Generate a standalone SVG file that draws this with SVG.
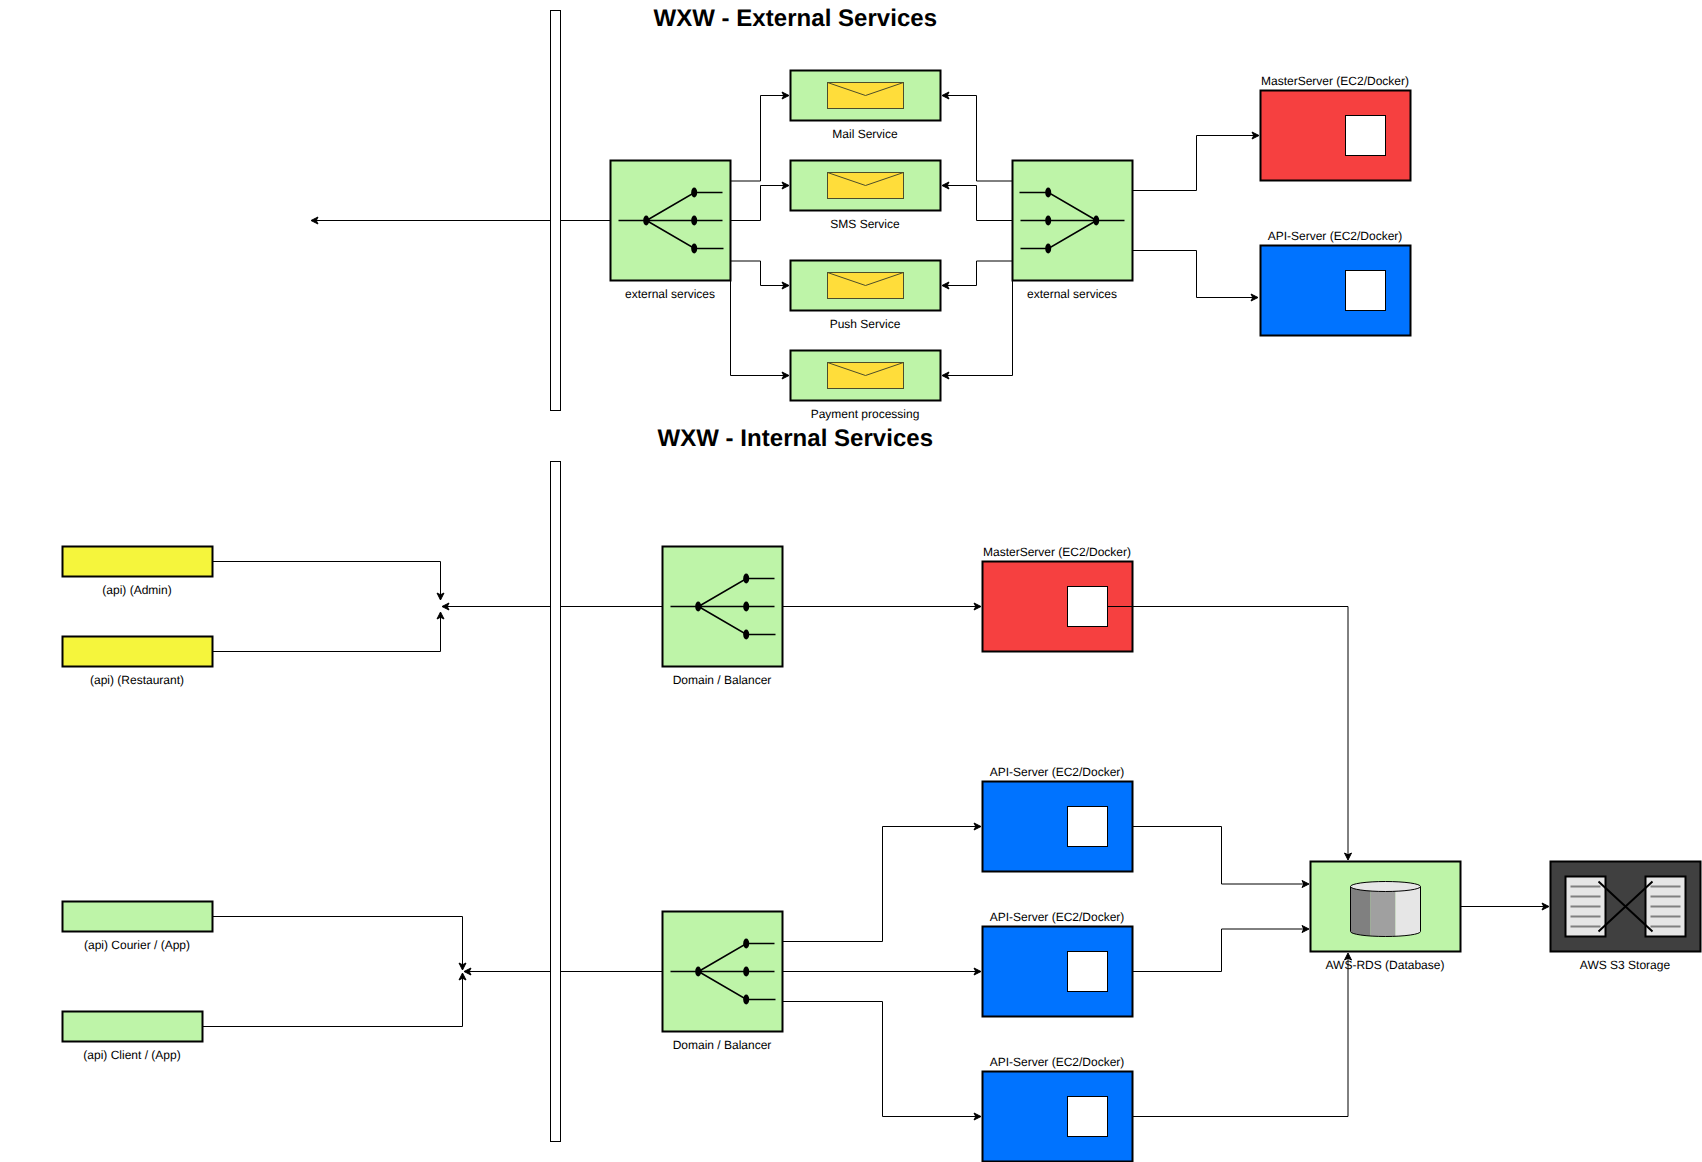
<svg xmlns="http://www.w3.org/2000/svg" width="1702" height="1162" viewBox="0 0 1702 1162">
<style>
text{font-family:"Liberation Sans",Arial,Helvetica,sans-serif;font-size:12px;fill:#000;text-anchor:middle;text-rendering:geometricPrecision}
.title{font-size:24px;font-weight:bold;letter-spacing:.04px}
.box{stroke:#000;stroke-width:2}
.g{fill:#bef4a8}.r{fill:#f64040}.b{fill:#0073ff}.y{fill:#f5f53c}
.bar,.win{fill:#fff;stroke:#000;stroke-width:1}
.env{fill:#ffdd3a;stroke:#4d4d2a;stroke-width:1}
.ic{fill:none;stroke:#000;stroke-width:1.5}
.x{fill:none;stroke:#000;stroke-width:2}
.c{fill:none;stroke:#000;stroke-width:1}
.c.a{marker-end:url(#arr)}
.l{stroke:#808080;stroke-width:2;fill:none}
</style>
<defs>
<marker id="arr" markerUnits="userSpaceOnUse" markerWidth="12" markerHeight="12" refX="6" refY="6" orient="auto" overflow="visible">
<path d="M2,2.5 L9,6 L2,9.5 L3.75,6 Z" fill="#000" stroke="#000" stroke-width="1"/>
</marker>
<clipPath id="cyl"><path d="M1350.5,885.5 V930.5 A35,5 0 0 0 1420.5,930.5 V885.5 Z"/></clipPath>
<g id="lbR"><path class="ic" d="M8,60H112M36,60L84,32H112M36,60L84,88H113"/><ellipse cx="35.7" cy="60" rx="3" ry="5"/><ellipse cx="83.7" cy="32" rx="3" ry="5"/><ellipse cx="83.7" cy="60" rx="3" ry="5"/><ellipse cx="83.7" cy="88" rx="3" ry="5"/></g>
<g id="lbL"><path class="ic" d="M8,60H112M84,60L36,32H7M84,60L36,88H8"/><ellipse cx="83.7" cy="60" rx="3" ry="5"/><ellipse cx="35.7" cy="32" rx="3" ry="5"/><ellipse cx="35.7" cy="60" rx="3" ry="5"/><ellipse cx="35.7" cy="88" rx="3" ry="5"/></g>
<g id="envelope"><rect class="env" width="76" height="26"/><path class="env" style="fill:none" d="M0,0L38,13L76,0"/></g>
<g id="server-win"><rect class="win" width="40" height="40"/></g>
</defs>

<text class="title" x="795.3" y="26">WXW - External Services</text>
<text class="title" x="795.3" y="446">WXW - Internal Services</text>

<g id="ext-lb-left"><rect class="box g" x="610.5" y="160.5" width="120" height="120"/><use href="#lbR" x="610.5" y="160.5"/><text x="670" y="298">external services</text></g>
<g id="ext-lb-right"><rect class="box g" x="1012.5" y="160.5" width="120" height="120"/><use href="#lbL" x="1012.5" y="160.5"/><text x="1072" y="298">external services</text></g>
<g id="mail"><rect class="box g" x="790.5" y="70.5" width="150" height="50"/><use href="#envelope" x="827.5" y="82.5"/><text x="865" y="138">Mail Service</text></g>
<g id="sms"><rect class="box g" x="790.5" y="160.5" width="150" height="50"/><use href="#envelope" x="827.5" y="172.5"/><text x="865" y="228">SMS Service</text></g>
<g id="push"><rect class="box g" x="790.5" y="260.5" width="150" height="50"/><use href="#envelope" x="827.5" y="272.5"/><text x="865" y="328">Push Service</text></g>
<g id="payment"><rect class="box g" x="790.5" y="350.5" width="150" height="50"/><use href="#envelope" x="827.5" y="362.5"/><text x="865" y="418">Payment processing</text></g>
<g id="ext-master"><rect class="box r" x="1260.5" y="90.5" width="150" height="90"/><use href="#server-win" x="1345.5" y="115.5"/><text x="1335" y="85">MasterServer (EC2/Docker)</text></g>
<g id="ext-api"><rect class="box b" x="1260.5" y="245.5" width="150" height="90"/><use href="#server-win" x="1345.5" y="270.5"/><text x="1335" y="240">API-Server (EC2/Docker)</text></g>

<g transform="translate(0,1)">
<g id="admin"><rect class="box y" x="62.5" y="545.5" width="150" height="30"/><text x="137" y="592.5">(api) (Admin)</text></g>
<g id="restaurant"><rect class="box y" x="62.5" y="635.5" width="150" height="30"/><text x="137" y="682.5">(api) (Restaurant)</text></g>
<g id="courier"><rect class="box g" x="62.5" y="900.5" width="150" height="30"/><text x="137" y="947.5">(api) Courier / (App)</text></g>
<g id="client"><rect class="box g" x="62.5" y="1010.5" width="140" height="30"/><text x="132" y="1057.5">(api) Client / (App)</text></g>
<g id="int-lb-1"><rect class="box g" x="662.5" y="545.5" width="120" height="120"/><use href="#lbR" x="662.5" y="545.5"/><text x="722" y="682.5">Domain / Balancer</text></g>
<g id="int-lb-2"><rect class="box g" x="662.5" y="910.5" width="120" height="120"/><use href="#lbR" x="662.5" y="910.5"/><text x="722" y="1047.5">Domain / Balancer</text></g>
<g id="int-master"><rect class="box r" x="982.5" y="560.5" width="150" height="90"/><use href="#server-win" x="1067.5" y="585.5"/><text x="1057" y="554.5">MasterServer (EC2/Docker)</text></g>
<g id="int-api-1"><rect class="box b" x="982.5" y="780.5" width="150" height="90"/><use href="#server-win" x="1067.5" y="805.5"/><text x="1057" y="774.5">API-Server (EC2/Docker)</text></g>
<g id="int-api-2"><rect class="box b" x="982.5" y="925.5" width="150" height="90"/><use href="#server-win" x="1067.5" y="950.5"/><text x="1057" y="919.5">API-Server (EC2/Docker)</text></g>
<g id="int-api-3"><rect class="box b" x="982.5" y="1070.5" width="150" height="90"/><use href="#server-win" x="1067.5" y="1095.5"/><text x="1057" y="1064.5">API-Server (EC2/Docker)</text></g>
<g id="rds"><rect class="box g" x="1310.5" y="860.5" width="150" height="90"/>
<g clip-path="url(#cyl)"><rect x="1350.5" y="880" width="20" height="60" fill="#808080"/><rect x="1370.5" y="880" width="25" height="60" fill="#a0a0a0"/><rect x="1395.5" y="880" width="25" height="60" fill="#e6e6e6"/></g>
<path d="M1350.5,885.5 V930.5 A35,5 0 0 0 1420.5,930.5 V885.5" fill="none" stroke="#000" stroke-width="1"/>
<ellipse cx="1385.5" cy="885.5" rx="35" ry="5" fill="#e6e6e6" stroke="#000" stroke-width="1"/>
<text x="1385" y="967.5">AWS-RDS (Database)</text></g>
<g id="s3"><rect class="box" fill="#404040" x="1550.5" y="860.5" width="150" height="90"/>
<rect class="box" fill="#e6e6e6" x="1565.5" y="875.5" width="40" height="60"/><rect class="box" fill="#e6e6e6" x="1645.5" y="875.5" width="40" height="60"/>
<path class="l" d="M1570.5,885.5h30M1570.5,895.5h30M1570.5,905.5h30M1570.5,915.5h30M1570.5,925.5h30M1650.5,885.5h30M1650.5,895.5h30M1650.5,905.5h30M1650.5,915.5h30M1650.5,925.5h30"/>
<path class="x" d="M1598.5,880.5L1652.5,930.5M1652.5,880.5L1598.5,930.5"/>
<text x="1625" y="967.5">AWS S3 Storage</text></g>
</g>

<g id="connectors">
<path class="c a" d="M610.5,220.5H314"/>
<path class="c a" d="M730.5,181H760.5V95.5H786"/>
<path class="c a" d="M730.5,220.5H760.5V185.5H786"/>
<path class="c a" d="M730.5,261H760.5V285.5H786"/>
<path class="c a" d="M730.5,280.5V375.5H786"/>
<path class="c a" d="M1012.5,181H976.5V95.5H945"/>
<path class="c a" d="M1012.5,220.5H976.5V185.5H945"/>
<path class="c a" d="M1012.5,261H976.5V285.5H945"/>
<path class="c a" d="M1012.5,280.5V375.5H945"/>
<path class="c a" d="M1132.5,190.5H1196.5V135.5H1256"/>
<path class="c a" d="M1132.5,250.5H1196.5V297.5H1255"/>
<g transform="translate(0,1)">
<path class="c a" d="M212.5,560.5H440.5V596"/>
<path class="c a" d="M212.5,650.5H440.5V614"/>
<path class="c a" d="M662.5,605.5H445"/>
<path class="c a" d="M212.5,915.5H462.5V966"/>
<path class="c a" d="M202.5,1025.5H462.5V975"/>
<path class="c a" d="M662.5,970.5H467"/>
<path class="c a" d="M782.5,605.5H978"/>
<path class="c a" d="M782.5,940.5H882.5V825.5H978"/>
<path class="c a" d="M782.5,970.5H978"/>
<path class="c a" d="M782.5,1000.5H882.5V1115.5H978"/>
<path class="c a" d="M1107.5,605.5H1348V856"/>
<path class="c a" d="M1132.5,825.5H1221.5V883H1306"/>
<path class="c a" d="M1132.5,970.5H1221.5V928H1306"/>
<path class="c a" d="M1132.5,1115.5H1348V955"/>
<path class="c a" d="M1460.5,905.5H1546"/>
</g>
</g>

<g id="bar-external"><rect class="bar" x="550.5" y="10.5" width="10" height="400"/></g>
<g id="bar-internal"><rect class="bar" x="550.5" y="461.5" width="10" height="680"/></g>
</svg>
